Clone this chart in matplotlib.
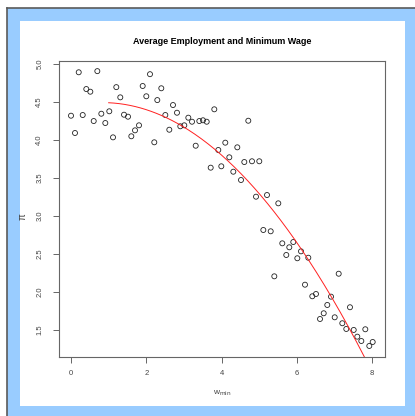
import numpy as np
import matplotlib
matplotlib.use("Agg")
import matplotlib.pyplot as plt
from matplotlib.patches import Rectangle
from matplotlib.lines import Line2D

plt.rcParams['font.family'] = ['Liberation Sans', 'DejaVu Sans']

# minimum wage (x) and average employment (y)
w_min = [0.205, 0.699, 2.098, 0.406, 0.513, 1.203, 1.904, 2.398, 1.309, 2.000,
         2.292, 0.000, 0.311, 0.805, 1.017, 1.408, 1.514, 2.505, 0.603, 0.911,
         1.806, 1.700, 2.611, 0.106, 1.116, 1.602, 2.212, 2.709, 2.815, 3.806,
         3.116, 3.214, 3.408, 3.506, 3.604, 4.709, 2.903, 3.009, 3.312, 4.098,
         3.912, 4.417, 4.205, 4.603, 4.807, 5.001, 3.710, 3.992, 4.311, 4.515,
         4.914, 5.206, 5.506, 5.108, 5.304, 5.612, 5.904, 5.798, 6.109, 5.718,
         6.011, 6.303, 5.400, 7.110, 6.215, 6.409, 6.507, 6.906, 6.807, 7.410,
         6.712, 6.614, 7.004, 7.206, 7.312, 7.509, 7.817, 7.604, 7.711, 8.013,
         7.923]
employment = [4.885, 4.900, 4.860, 4.665, 4.630, 4.690, 4.705, 4.675, 4.556, 4.570,
              4.520, 4.315, 4.324, 4.341, 4.373, 4.328, 4.302, 4.324, 4.245, 4.219,
              4.189, 4.123, 4.131, 4.088, 4.031, 4.045, 3.966, 4.455, 4.354, 4.399,
              4.289, 4.236, 4.245, 4.255, 4.236, 4.249, 4.176, 4.189, 3.921, 3.961,
              3.865, 3.900, 3.769, 3.707, 3.717, 3.717, 3.633, 3.651, 3.580, 3.471,
              3.252, 3.274, 3.165, 2.815, 2.798, 2.640, 2.657, 2.588, 2.535, 2.487,
              2.444, 2.451, 2.207, 2.241, 2.097, 1.945, 1.975, 1.940, 1.831, 1.801,
              1.722, 1.647, 1.669, 1.591, 1.516, 1.503, 1.512, 1.415, 1.358, 1.345,
              1.293]

# quadratic fit drawn over this wage range
fit_from, fit_to = 1, 8
xticks = [0, 2, 4, 6, 8]
yticks = [1.5, 2.0, 2.5, 3.0, 3.5, 4.0, 4.5, 5.0]

W, H = 415, 416
fig = plt.figure(figsize=(W / 100, H / 100), dpi=100)
fig.patch.set_facecolor('white')

# window frame
fig.add_artist(Rectangle((7 / W, 0), 1 - 7 / W, (H - 8) / H, transform=fig.transFigure,
                         facecolor='#99ccff', edgecolor='none', zorder=0))
fig.add_artist(Line2D([7 / W, 1], [(H - 8) / H] * 2, transform=fig.transFigure,
                      color='#5a5a5a', lw=1.2, zorder=1))
fig.add_artist(Line2D([7 / W] * 2, [0, (H - 8) / H], transform=fig.transFigure,
                      color='#5a5a5a', lw=1.2, zorder=1))
fig.add_artist(Rectangle((20 / W, 10 / H), 385 / W, 385 / H, transform=fig.transFigure,
                         facecolor='white', edgecolor='none', zorder=1))

ax = fig.add_axes([59.3 / W, 1 - 357 / H, (385 - 59.3) / W, (357 - 61) / H])
ax.set_zorder(2)
ax.patch.set_alpha(0)

ax.scatter(w_min, employment, s=13, facecolors='none', edgecolors='#222222', linewidths=0.6)

coef = np.polyfit(w_min, employment, 2)
xs = np.linspace(fit_from, fit_to, 200)
ax.plot(xs, np.polyval(coef, xs), color='#ff2020', lw=0.7)

ax.set_xlim(-0.311, 8.34)
ax.set_ylim(1.148, 5.033)
ax.set_xticks(xticks)
ax.set_xticklabels([str(t) for t in xticks])
ax.set_yticks(yticks)
ax.set_yticklabels(['%.1f' % t for t in yticks], rotation=90, va='center')

for s in ax.spines.values():
    s.set_color('#666666')
    s.set_linewidth(0.8)
ax.tick_params(axis='both', direction='out', length=4.5, width=0.7, color='#666666',
               labelsize=5.5, labelcolor='#444444')
ax.tick_params(axis='x', pad=5)
ax.tick_params(axis='y', pad=7)

ax.set_title('Average Employment and Minimum Wage', fontsize=6.5, fontweight='bold', pad=12)
ax.set_xlabel(r'w$_{\mathrm{min}}$', fontsize=6, color='#444444', labelpad=8)
ax.set_ylabel('π', fontsize=7, color='#444444', labelpad=4)
ax.yaxis.set_label_coords(-0.097, 0.475)

fig.savefig('out.png', dpi=100)
